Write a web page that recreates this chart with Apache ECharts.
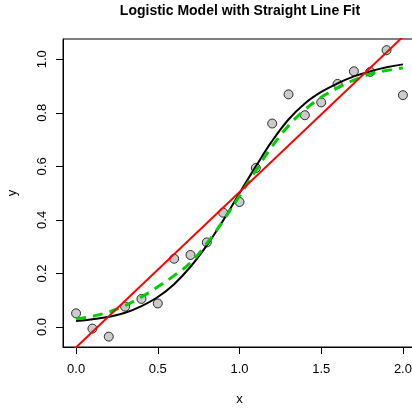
<!DOCTYPE html>
<html lang="en">
<head>
  <meta charset="UTF-8">
  <title>Logistic Model with Straight Line Fit</title>
  <script src="https://cdn.jsdelivr.net/npm/echarts@6/dist/echarts.min.js"></script>
  <style>
    body { margin: 0; background: #fff; }
  </style>
</head>
<body>
  <div id="chart" style="width: 412px; height: 410px;"></div>

<script>
  // observed points
  const xs = [0, 0.1, 0.2, 0.3, 0.4, 0.5, 0.6, 0.7, 0.8, 0.9, 1.0,
              1.1, 1.2, 1.3, 1.4, 1.5, 1.6, 1.7, 1.8, 1.9, 2.0];
  const yObs = [0.051, -0.006, -0.036, 0.076, 0.105, 0.088, 0.255, 0.269, 0.316, 0.427, 0.467,
                0.594, 0.760, 0.869, 0.791, 0.839, 0.908, 0.955, 0.953, 1.034, 0.866];
  // fitted logistic curve (black) and smooth (green dashed), read at the same xs
  const yLogistic = [0.022, 0.029, 0.038, 0.053, 0.078, 0.112, 0.160, 0.225, 0.305, 0.398, 0.500,
                     0.600, 0.695, 0.775, 0.835, 0.878, 0.910, 0.936, 0.955, 0.970, 0.981];
  const ySmooth = [0.031, 0.040, 0.056, 0.080, 0.112, 0.150, 0.192, 0.240, 0.312, 0.397, 0.490,
                   0.585, 0.675, 0.752, 0.812, 0.858, 0.893, 0.922, 0.945, 0.958, 0.968];
  // straight line fit, two end points (clipped by the plot box)
  const lineX = [-0.1, 2.1];
  const lineY = [-0.134, 1.142];

  const xTicks = [0, 0.5, 1, 1.5, 2];
  const yTicks = [0, 0.2, 0.4, 0.6, 0.8, 1.0];

  const pair = (a, b) => a.map((v, i) => [v, b[i]]);

  const myChart = echarts.init(document.getElementById('chart'));
  const font = 'Liberation Sans, Arial, sans-serif';

  const option = {
    animation: false,
    title: {
      text: 'Logistic Model with Straight Line Fit',
      left: 240,
      top: 4,
      textAlign: 'center',
      padding: 0,
      textStyle: { fontFamily: font, fontSize: 14, fontWeight: 'bold', color: '#000' }
    },
    grid: {
      left: 63, top: 39, width: 353, height: 308,
      outerBoundsMode: 'none',
      containLabel: false,
      show: true, borderColor: '#000', borderWidth: 1, backgroundColor: 'transparent'
    },
    xAxis: {
      type: 'value',
      min: -0.08, max: 2.08,
      name: 'x',
      nameLocation: 'middle',
      nameGap: 46,
      nameTextStyle: { fontFamily: font, fontSize: 13, color: '#000' },
      axisLine: { show: true, onZero: false, lineStyle: { color: '#000', width: 1 } },
      axisTick: { show: true, customValues: xTicks, length: 7, lineStyle: { color: '#000' } },
      axisLabel: {
        customValues: xTicks, margin: 16,
        formatter: v => v.toFixed(1),
        fontFamily: font, fontSize: 13, color: '#000'
      },
      splitLine: { show: false }
    },
    yAxis: {
      type: 'value',
      min: -0.0747, max: 1.0758,
      name: 'y',
      nameLocation: 'middle',
      nameGap: 44,
      nameRotate: 90,
      nameTextStyle: { fontFamily: font, fontSize: 13, color: '#000' },
      axisLine: { show: true, onZero: false, lineStyle: { color: '#000', width: 1 } },
      axisTick: { show: true, customValues: yTicks, length: 7, lineStyle: { color: '#000' } },
      axisLabel: {
        customValues: yTicks, margin: 14, rotate: 90,
        formatter: v => v.toFixed(1),
        fontFamily: font, fontSize: 13, color: '#000'
      },
      splitLine: { show: false }
    },
    series: [
      {
        name: 'observed',
        type: 'scatter',
        data: pair(xs, yObs),
        symbol: 'circle',
        symbolSize: 9,
        itemStyle: { color: '#bebebe', borderColor: '#000', borderWidth: 1 },
        z: 2
      },
      {
        name: 'logistic',
        type: 'line',
        data: pair(xs, yLogistic),
        smooth: 0.4,
        showSymbol: false,
        lineStyle: { color: '#000', width: 2 },
        z: 3
      },
      {
        name: 'smooth',
        type: 'line',
        data: pair(xs, ySmooth),
        smooth: 0.4,
        showSymbol: false,
        lineStyle: { color: '#00cd00', width: 3, type: [10, 7] },
        z: 4
      },
      {
        name: 'straight line',
        type: 'line',
        data: pair(lineX, lineY),
        showSymbol: false,
        clip: true,
        lineStyle: { color: '#ff0000', width: 2 },
        z: 5
      }
    ]
  };

  myChart.setOption(option);
</script>
</body>
</html>
